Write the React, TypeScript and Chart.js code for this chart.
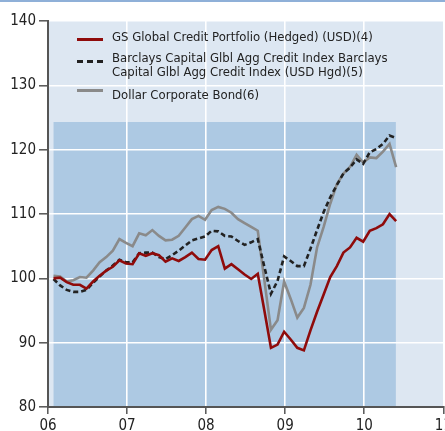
import React, { useEffect, useRef } from "react";
import { Chart, registerables } from "chart.js";

Chart.register(...registerables);

// Monthly observations, end of Jan 2006 through May 2010
const gsGlobalCredit = [
  100.0, 100.1, 99.4, 99.0, 99.0, 98.4, 99.5, 100.4, 101.2, 101.8, 102.8, 102.3,
  102.2, 103.9, 103.5, 103.9, 103.6, 102.6, 103.1, 102.7, 103.3, 104.0, 103.0, 102.9,
  104.4, 105.0, 101.5, 102.2, 101.4, 100.6, 99.9, 100.7, 95.0, 89.2, 89.7, 91.7,
  90.5, 89.2, 88.8, 91.9, 94.8, 97.5, 100.2, 101.9, 104.0, 104.8, 106.3, 105.7,
  107.4, 107.8, 108.4, 110.0, 108.9,
];
const barclaysCredit = [
  99.9, 98.9, 98.2, 97.9, 97.9, 98.2, 99.3, 100.3, 101.2, 102.0, 102.9, 102.5,
  102.5, 103.9, 104.0, 104.0, 103.3, 103.0, 103.6, 104.3, 105.1, 105.9, 106.2, 106.5,
  107.4, 107.3, 106.6, 106.5, 105.8, 105.2, 105.6, 106.1, 101.8, 97.6, 99.6, 103.4,
  102.7, 101.9, 101.9, 104.6, 107.5, 110.3, 112.6, 114.5, 116.3, 117.2, 118.5, 117.8,
  119.6, 120.1, 120.9, 122.2, 121.8,
];
const dollarCorporate = [
  100.4, 100.3, 99.5, 99.7, 100.2, 100.1, 101.2, 102.5, 103.3, 104.3, 106.1, 105.5,
  105.0, 107.0, 106.7, 107.5, 106.6, 105.9, 106.0, 106.6, 107.9, 109.2, 109.7, 109.1,
  110.6, 111.1, 110.8, 110.2, 109.2, 108.6, 108.0, 107.4, 99.7, 92.0, 93.5, 99.5,
  96.8, 93.9, 95.4, 99.0, 104.8, 108.0, 111.6, 114.6, 116.3, 117.3, 119.2, 118.0,
  118.8, 118.7, 119.7, 120.9, 117.3,
];

const seriesNames = [
  "GS Global Credit Portfolio (Hedged) (USD)(4)",
  "Barclays Capital Glbl Agg Credit Index Barclays Capital Glbl Agg Credit Index (USD Hgd)(5)",
  "Dollar Corporate Bond(6)",
];
const legendLines = [
  ["GS Global Credit Portfolio (Hedged) (USD)(4)"],
  ["Barclays Capital Glbl Agg Credit Index Barclays", "Capital Glbl Agg Credit Index (USD Hgd)(5)"],
  ["Dollar Corporate Bond(6)"],
];
const xTickValues = [2006, 2007, 2008, 2009, 2010, 2011];
const xTickLabels = ["06", "07", "08", "09", "10", "11"];
const yTickValues = [80, 90, 100, 110, 120, 130, 140];

const firstMonth = 2006.07; // first observation (decimal year)
const shadeStart = 2006.07;
const shadeEnd = 2010.4;
const shadeTop = 124.3;

const colors = {
  red: "#8f0b0b",
  dash: "#222222",
  gray: "#8a8a8a",
  plotBg: "#dde7f2",
  shade: "#adc9e3",
  axis: "#555555",
};

const FONT = "'Liberation Sans Narrow', 'DejaVu Sans Condensed', 'Arial Narrow', sans-serif";

const toPoints = (vals: number[]) =>
  vals.map((v, i) => ({ x: firstMonth + i / 12, y: v }));

const bgPlugin = {
  id: "bgShade",
  beforeDraw(chart: any) {
    const { ctx, chartArea, scales } = chart;
    const x = scales.x;
    const y = scales.y;
    ctx.save();
    ctx.fillStyle = colors.plotBg;
    ctx.fillRect(chartArea.left, chartArea.top, chartArea.right - chartArea.left, chartArea.bottom - chartArea.top);
    const x0 = x.getPixelForValue(shadeStart);
    const x1 = x.getPixelForValue(shadeEnd);
    const y0 = y.getPixelForValue(shadeTop);
    ctx.fillStyle = colors.shade;
    ctx.fillRect(x0, y0, x1 - x0, chartArea.bottom - y0);
    ctx.restore();
  },
};

const CANVAS_W = 470;
const CANVAS_H = 431;

export default function App() {
  const ref = useRef<HTMLCanvasElement | null>(null);

  useEffect(() => {
    if (!ref.current) return;
    const chart = new Chart(ref.current, {
      type: "line",
      data: {
        datasets: [
          {
            label: seriesNames[0],
            data: toPoints(gsGlobalCredit),
            borderColor: colors.red,
            borderWidth: 2.6,
            pointRadius: 0,
            tension: 0,
            fill: false,
          },
          {
            label: seriesNames[1],
            data: toPoints(barclaysCredit),
            borderColor: colors.dash,
            borderWidth: 2.6,
            borderDash: [5, 3],
            pointRadius: 0,
            tension: 0,
            fill: false,
          },
          {
            label: seriesNames[2],
            data: toPoints(dollarCorporate),
            borderColor: colors.gray,
            borderWidth: 2.6,
            pointRadius: 0,
            tension: 0,
            fill: false,
          },
        ],
      },
      options: {
        animation: false,
        responsive: false,
        maintainAspectRatio: false,
        devicePixelRatio: 1,
        layout: { padding: { top: 21, right: CANVAS_W - 443.3, left: 0, bottom: 0 } },
        plugins: { legend: { display: false }, tooltip: { enabled: false } },
        scales: {
          x: {
            type: "linear",
            min: 2006,
            max: 2011,
            afterFit: (s: any) => {
              s.height = 24;
            },
            afterBuildTicks: (s: any) => {
              s.ticks = xTickValues.map((v) => ({ value: v }));
            },
            ticks: {
              autoSkip: false,
              maxRotation: 0,
              padding: 3,
              color: "#222",
              font: { family: FONT, size: 15 },
              callback: (v: any) => xTickLabels[xTickValues.indexOf(Number(v))] ?? "",
            },
            grid: {
              color: "#ffffff",
              lineWidth: 1.6,
              tickColor: colors.axis,
              tickWidth: 1.5,
              tickLength: 7,
              drawOnChartArea: true,
            },
            border: { color: colors.axis, width: 2 },
          },
          y: {
            min: 80,
            max: 140,
            afterFit: (s: any) => {
              s.width = 48;
            },
            afterBuildTicks: (s: any) => {
              s.ticks = yTickValues.map((v) => ({ value: v }));
            },
            ticks: {
              padding: 3,
              color: "#222",
              font: { family: FONT, size: 15 },
              callback: (v: any) => String(v),
            },
            grid: {
              color: "#ffffff",
              lineWidth: 1.6,
              tickColor: colors.axis,
              tickWidth: 1.5,
              tickLength: 9,
            },
            border: { color: colors.axis, width: 2 },
          },
        },
      },
      plugins: [bgPlugin],
    });
    return () => chart.destroy();
  }, []);

  const sample = (kind: number) => {
    if (kind === 1) {
      return (
        <div
          style={{
            width: 26,
            height: 0,
            borderTop: `3px dashed ${colors.dash}`,
            marginTop: 0,
          }}
        />
      );
    }
    return (
      <div
        style={{
          width: 26,
          height: 3,
          background: kind === 0 ? colors.red : colors.gray,
        }}
      />
    );
  };

  const legendTops = [30, 51, 88];
  const sampleTops = [38, 59.5, 88.5];

  return (
    <div
      style={{
        position: "absolute",
        left: 0,
        top: 0,
        width: 445,
        height: 431,
        overflow: "hidden",
        background: "#ffffff",
      }}
    >
      <canvas ref={ref} width={CANVAS_W} height={CANVAS_H} style={{ display: "block", width: CANVAS_W, height: CANVAS_H }} />
      <div style={{ position: "absolute", left: 0, top: 0, width: 445, height: 2, background: "#8fb0d8" }} />
      {legendLines.map((lines, k) => (
        <React.Fragment key={k}>
          <div style={{ position: "absolute", left: 77, top: sampleTops[k] }}>{sample(k)}</div>
          <div
            style={{
              position: "absolute",
              left: 112,
              top: legendTops[k],
              fontFamily: FONT,
              fontSize: 13,
              lineHeight: "14px",
              color: "#222",
              whiteSpace: "nowrap",
            }}
          >
            {lines.map((t, j) => (
              <div key={j}>{t}</div>
            ))}
          </div>
        </React.Fragment>
      ))}
    </div>
  );
}
